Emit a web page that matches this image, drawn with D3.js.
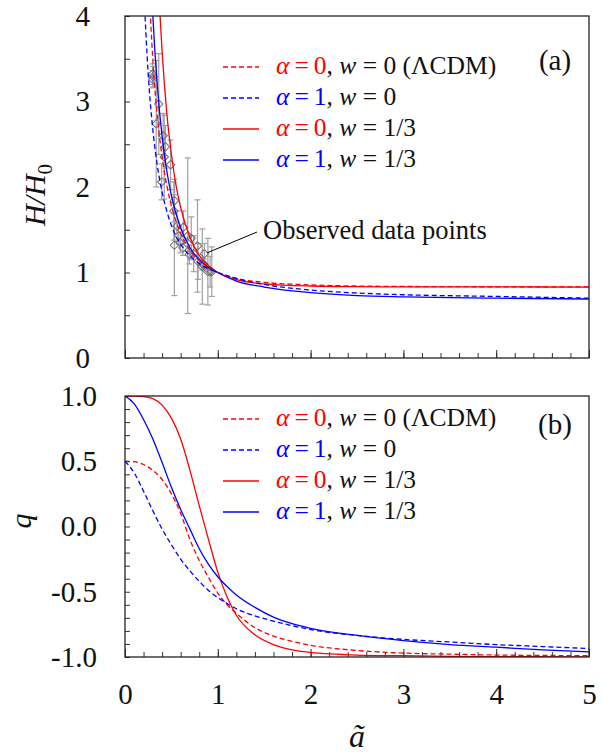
<!DOCTYPE html>
<html><head><meta charset="utf-8">
<script src="https://cdn.jsdelivr.net/npm/d3@7"></script>
<style>
body{margin:0;background:#fff;}
svg{display:block;font-family:"Liberation Serif","Times New Roman",serif;}
</style></head><body>
<svg id="c" width="602" height="754"></svg>
<script>
// ---------- Panel (a): H/H0 versus scale factor ----------
const aRedDashedH  = [0.25,0.3,0.35,0.4,0.45,0.5,0.6,0.7,0.8,0.9,1.0,1.2,1.5,2,2.5,3,4,5];
const hRedDashed   = [4.53,3.49,2.81,2.35,2.02,1.78,1.46,1.26,1.14,1.06,1.0,0.93,0.885,0.855,0.842,0.837,0.833,0.831];
const aBlueDashedH = [0.2,0.25,0.3,0.35,0.4,0.45,0.5,0.6,0.7,0.8,0.9,1.0,1.2,1.5,2,2.5,3,4,5];
const hBlueDashed  = [4.37,3.32,2.67,2.24,1.94,1.72,1.55,1.33,1.195,1.105,1.043,1.0,0.93,0.86,0.795,0.76,0.74,0.72,0.70];
const aRedSolidH   = [0.37,0.4,0.45,0.5,0.55,0.6,0.7,0.8,0.9,1.0,1.2,1.5,2,2.5,3,4,5];
const hRedSolid    = [4.15,3.58,2.87,2.38,2.02,1.76,1.41,1.20,1.08,1.0,0.916,0.867,0.842,0.835,0.832,0.831,0.83];
const aBlueSolidH  = [0.28,0.3,0.35,0.4,0.45,0.5,0.6,0.7,0.8,0.9,1.0,1.2,1.5,2,2.5,3,4,5];
const hBlueSolid   = [4.46,4.0,3.16,2.59,2.19,1.90,1.52,1.29,1.15,1.06,1.0,0.90,0.83,0.765,0.73,0.715,0.70,0.69];

// observed H(z)/H0 points (scale factor, value, error)
const obsA   = [0.935,0.917,0.893,0.855,0.848,0.834,0.833,0.787,0.781,0.740,0.714,0.694,0.676,0.628,0.625,0.595,0.578,0.561,0.533,0.532,0.526,0.491,0.435,0.423,0.411,0.395,0.364,0.337,0.303,0.299,0.297];
const obsH   = [1.01,1.01,1.01,1.22,1.10,1.10,1.07,1.13,1.31,1.22,1.40,1.21,1.43,1.53,1.29,1.35,1.43,1.54,1.84,1.32,1.72,2.26,2.47,2.35,2.60,2.06,2.97,2.74,3.29,3.26,3.32];
const obsErr = [0.29,0.18,0.39,0.12,0.06,0.07,0.44,0.21,0.54,0.21,0.25,0.11,0.91,0.19,0.09,0.12,0.10,0.18,0.25,0.59,0.34,0.29,0.25,0.49,0.26,0.21,0.59,0.74,0.12,0.10,0.12];

// ---------- Panel (b): deceleration parameter q ----------
const aQ          = [0,0.1,0.2,0.3,0.4,0.5,0.6,0.7,0.8,0.9,1.0,1.1,1.2,1.4,1.6,1.8,2.0,2.5,3,3.5,4,4.5,5];
const qRedDashed  = [0.5,0.497,0.475,0.43,0.36,0.25,0.10,-0.10,-0.26,-0.39,-0.51,-0.60,-0.665,-0.775,-0.84,-0.88,-0.91,-0.95,-0.97,-0.978,-0.985,-0.988,-0.99];
const qBlueDashed = [0.5,0.41,0.27,0.12,-0.02,-0.14,-0.25,-0.34,-0.42,-0.49,-0.545,-0.59,-0.63,-0.685,-0.725,-0.76,-0.79,-0.835,-0.865,-0.885,-0.905,-0.92,-0.935];
const qRedSolid   = [1.0,1.0,0.995,0.98,0.93,0.83,0.67,0.43,0.16,-0.10,-0.35,-0.54,-0.68,-0.83,-0.905,-0.945,-0.965,-0.985,-0.99,-0.995,-0.997,-0.998,-0.999];
const qBlueSolid  = [1.0,0.94,0.82,0.67,0.49,0.30,0.13,-0.02,-0.17,-0.29,-0.385,-0.46,-0.525,-0.62,-0.695,-0.745,-0.78,-0.835,-0.875,-0.905,-0.925,-0.945,-0.96];

// ticks and legend
const hTicks = [0,0.5,1,1.5,2,2.5,3,3.5,4];
const qTicks = [-10,-9,-8,-7,-6,-5,-4,-3,-2,-1,0,1,2,3,4,5,6,7,8,9,10].map(i => i/10);
const xTicks = [0,1,2,3,4,5];
const xMinorTicks = d3.range(0,26).map(i => i/5);
const legendAlpha = ["0","1","0","1"];
const legendW = ["0 (\u039BCDM)","0","1/3","1/3"];
const legendColor = ["#ff0000","#0000ff","#ff0000","#0000ff"];
const legendDash = [true,true,false,false];

const RED = "#ff0000", BLUE = "#0000ff";
const svg = d3.select("#c");
const x = d3.scaleLinear().domain([0,5]).range([125,589]);
const yH = d3.scaleLinear().domain([0,4]).range([358,16]);
const yQ = d3.scaleLinear().domain([-1,1]).range([657,396]);

const defs = svg.append("defs");
function clip(id, y) {
  defs.append("clipPath").attr("id", id).append("rect")
    .attr("x", x.range()[0]).attr("y", y.range()[1])
    .attr("width", x.range()[1]-x.range()[0]).attr("height", y.range()[0]-y.range()[1]);
}
clip("clipA", yH); clip("clipB", yQ);

function styleAxis(g) {
  g.select(".domain").remove();
  g.selectAll(".tick line").attr("stroke", "#333").attr("stroke-width", 1);
  g.selectAll("text").attr("font-family", "Liberation Serif, serif").attr("font-size", 29).attr("fill", "#111");
}

function xAxes(y, withLabels) {
  const yb = y.range()[0];
  svg.append("g").attr("transform", `translate(0,${yb})`)
    .call(d3.axisBottom(x).tickValues(xMinorTicks).tickSize(-5).tickFormat(""))
    .call(styleAxis);
  const g = svg.append("g").attr("transform", `translate(0,${yb})`)
    .call(d3.axisBottom(x).tickValues(xTicks).tickSize(-8).tickFormat(withLabels ? d3.format("d") : ""))
    .call(styleAxis);
  if (withLabels) g.selectAll("text").attr("y", 37).attr("dy", "0.35em");
}

// ---- Panel (a) ----
svg.append("g").attr("transform", `translate(${x(0)},0)`)
  .call(d3.axisLeft(yH).tickValues(hTicks).tickSize(-5).tickPadding(35)
    .tickFormat(d => Number.isInteger(d) ? String(d) : ""))
  .call(styleAxis);
xAxes(yH, false);

const line = (aArr, vArr, y) => d3.line().curve(d3.curveMonotoneX)
  .x((d,i) => x(aArr[i])).y((d,i) => y(vArr[i]))(vArr);

const gA = svg.append("g").attr("clip-path", "url(#clipA)");
// observed points
const pts = obsA.map((a,i) => ({a, h: obsH[i], e: obsErr[i]}));
const ep = gA.append("g").attr("stroke", "#a0a0a0").attr("stroke-width", 1.2).attr("fill", "none");
pts.forEach(p => {
  ep.append("line").attr("x1", x(p.a)).attr("x2", x(p.a)).attr("y1", yH(p.h - p.e)).attr("y2", yH(p.h + p.e));
  ep.append("line").attr("x1", x(p.a)-3).attr("x2", x(p.a)+3).attr("y1", yH(p.h - p.e)).attr("y2", yH(p.h - p.e));
  ep.append("line").attr("x1", x(p.a)-3).attr("x2", x(p.a)+3).attr("y1", yH(p.h + p.e)).attr("y2", yH(p.h + p.e));
});
const sym = d3.symbol().type(d3.symbolSquare).size(36);
gA.append("g").selectAll("path").data(pts).join("path")
  .attr("d", sym).attr("transform", p => `translate(${x(p.a)},${yH(p.h)}) rotate(45)`)
  .attr("fill", "none").attr("stroke", "#707070").attr("stroke-width", 1);

const curvesA = [
  [aRedSolidH, hRedSolid, RED, false],
  [aBlueSolidH, hBlueSolid, BLUE, false],
  [aRedDashedH, hRedDashed, RED, true],
  [aBlueDashedH, hBlueDashed, BLUE, true]
];
curvesA.forEach(([a, v, c, dash]) => {
  gA.append("path").attr("d", line(a, v, yH)).attr("fill", "none").attr("stroke", c)
    .attr("stroke-width", 1.3).attr("stroke-dasharray", dash ? "5,3" : null);
});

// annotation
svg.append("line").attr("x1", 257).attr("y1", 232).attr("x2", x(0.885)).attr("y2", yH(1.23))
  .attr("stroke", "#000").attr("stroke-width", 1);
svg.append("text").attr("x", 263).attr("y", 239).attr("font-size", 26.5).attr("fill", "#111")
  .text("Observed data points");

// ---- Panel (b) ----
svg.append("g").attr("transform", `translate(${x(0)},0)`)
  .call(d3.axisLeft(yQ).tickValues(qTicks).tickSize(-5).tickPadding(28)
    .tickFormat(d => { const v = Math.round(d*10); return v % 5 === 0 ? (v/10).toFixed(1) : ""; }))
  .call(styleAxis);
xAxes(yQ, true);

const gB = svg.append("g").attr("clip-path", "url(#clipB)");
const curvesB = [
  [qRedSolid, RED, false],
  [qBlueSolid, BLUE, false],
  [qRedDashed, RED, true],
  [qBlueDashed, BLUE, true]
];
curvesB.forEach(([v, c, dash]) => {
  gB.append("path").attr("d", line(aQ, v, yQ)).attr("fill", "none").attr("stroke", c)
    .attr("stroke-width", 1.3).attr("stroke-dasharray", dash ? "5,3" : null);
});

// frames
[yH, yQ].forEach(y => {
  svg.append("rect").attr("x", x.range()[0]).attr("y", y.range()[1])
    .attr("width", x.range()[1]-x.range()[0]).attr("height", y.range()[0]-y.range()[1])
    .attr("fill", "none").attr("stroke", "#222").attr("stroke-width", 1.3);
});

// legends
function legend(baselines, tag, tagY) {
  baselines.forEach((b, i) => {
    svg.append("line").attr("x1", 223).attr("x2", 259).attr("y1", b-7).attr("y2", b-7)
      .attr("stroke", legendColor[i]).attr("stroke-width", 1.3)
      .attr("stroke-dasharray", legendDash[i] ? "5,3" : null);
    const t = svg.append("text").attr("x", 276).attr("y", b).attr("font-size", 25.5).attr("fill", "#111");
    t.append("tspan").attr("fill", legendColor[i]).attr("font-style", "italic").text("\u03B1");
    t.append("tspan").attr("fill", legendColor[i]).attr("dx", 5).text("=");
    t.append("tspan").attr("fill", legendColor[i]).attr("dx", 5).text(legendAlpha[i]);
    t.append("tspan").text(", ");
    t.append("tspan").attr("font-style", "italic").text("w");
    t.append("tspan").text(" = " + legendW[i]);
  });
  svg.append("text").attr("x", 555).attr("y", tagY).attr("text-anchor", "middle")
    .attr("font-size", 29).attr("fill", "#111").text(tag);
}
legend([74,105,136,167], "(a)", 70);
legend([426,457,488,519], "(b)", 434);

// axis titles
const tH = svg.append("text").attr("transform", "translate(45,195) rotate(-90)")
  .attr("text-anchor", "middle").attr("font-size", 30).attr("fill", "#111");
tH.append("tspan").attr("font-style", "italic").text("H/H");
tH.append("tspan").attr("font-size", 21).attr("dy", 7).text("0");
svg.append("text").attr("transform", "translate(31,521) rotate(-90)")
  .attr("text-anchor", "middle").attr("font-size", 30).attr("font-style", "italic").attr("fill", "#111").text("q");
svg.append("text").attr("x", x(2.5)).attr("y", 747).attr("text-anchor", "middle")
  .attr("font-size", 32).attr("font-style", "italic").attr("fill", "#111").text("\u00E3");
</script>
</body></html>
